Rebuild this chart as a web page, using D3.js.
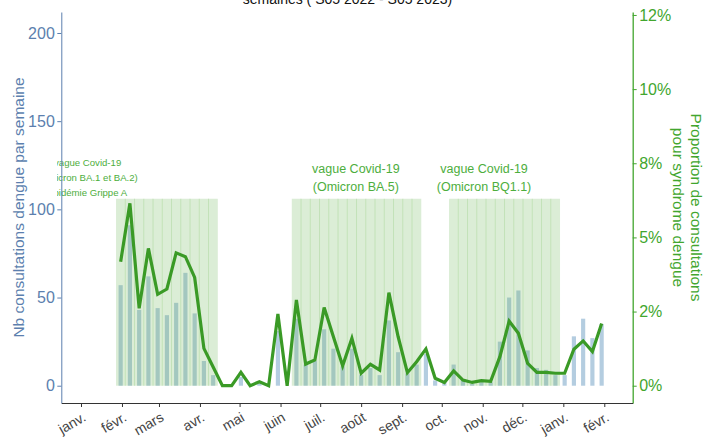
<!DOCTYPE html>
<html>
<head>
<meta charset="utf-8">
<script src="https://cdn.jsdelivr.net/npm/d3@7"></script>
<style>
  html, body { margin: 0; padding: 0; background: #fff; }
  svg { display: block; font-family: "Liberation Sans", Arial, sans-serif; }
</style>
</head>
<body>
<div id="chart"></div>
<script>
/* jshint esversion: 6 */

// weekly points (monday of each ISO week, S05 2022 -> S05 2023)
const weeks = [
  '2022-01-31', '2022-02-07', '2022-02-14', '2022-02-21', '2022-02-28', '2022-03-07',
  '2022-03-14', '2022-03-21', '2022-03-28', '2022-04-04', '2022-04-11', '2022-04-18',
  '2022-04-25', '2022-05-02', '2022-05-09', '2022-05-16', '2022-05-23', '2022-05-30',
  '2022-06-06', '2022-06-13', '2022-06-20', '2022-06-27', '2022-07-04', '2022-07-11',
  '2022-07-18', '2022-07-25', '2022-08-01', '2022-08-08', '2022-08-15', '2022-08-22',
  '2022-08-29', '2022-09-05', '2022-09-12', '2022-09-19', '2022-09-26', '2022-10-03',
  '2022-10-10', '2022-10-17', '2022-10-24', '2022-10-31', '2022-11-07', '2022-11-14',
  '2022-11-21', '2022-11-28', '2022-12-05', '2022-12-12', '2022-12-19', '2022-12-26',
  '2023-01-02', '2023-01-09', '2023-01-16', '2023-01-23', '2023-01-30'
];

// nb consultations dengue par semaine (bars, left axis)
const consultations = [
  57, 91, 43, 62, 44, 40, 47, 64, 41, 14, 6, 0,
  0, 5, 0, 1, 0, 31, 0, 38, 12, 14, 32, 21,
  11, 21, 6, 10, 6, 37, 19, 7, 12, 18, 3, 2,
  12, 3, 1, 2, 2, 25, 50, 54, 20, 10, 9, 6,
  6, 28, 38, 27, 35
];

// proportion de consultations pour syndrome dengue, in % (line, right axis)
const proportion = [
  4.18, 6.15, 2.61, 4.63, 3.08, 3.26, 4.48, 4.35, 3.65, 1.26, 0.63, 0,
  0, 0.45, 0, 0.13, 0, 2.42, 0, 2.89, 0.73, 0.87, 2.64, 1.65,
  0.67, 1.60, 0.42, 0.72, 0.53, 3.14, 1.65, 0.44, 0.81, 1.24, 0.25, 0.11,
  0.50, 0.19, 0.11, 0.17, 0.15, 0.98, 2.18, 1.77, 0.75, 0.45, 0.45, 0.42,
  0.42, 1.23, 1.51, 1.15, 2.10
];

// covid waves: first and last week shaded, label lines, date the label is centred on
const waveFirst = ['2022-01-31', '2022-06-13', '2022-10-10'];
const waveLast = ['2022-04-11', '2022-09-12', '2022-12-26'];
const waveLabels = [
  ['vague Covid-19', '(Omicron BA.1 et BA.2)', 'épidémie Grippe A'],
  ['vague Covid-19', '(Omicron BA.5)'],
  ['vague Covid-19', '(Omicron BQ1.1)']
];
const waveLabelDates = ['2022-01-06', '2022-07-28', '2022-11-02'];
const waveTop = 106;

// axes
const monthTicks = [
  '2022-01-01', '2022-02-01', '2022-03-01', '2022-04-01', '2022-05-01', '2022-06-01', '2022-07-01',
  '2022-08-01', '2022-09-01', '2022-10-01', '2022-11-01', '2022-12-01', '2023-01-01', '2023-02-01'
];
const monthLabels = ['janv.', 'févr.', 'mars', 'avr.', 'mai', 'juin', 'juil.',
  'août', 'sept.', 'oct.', 'nov.', 'déc.', 'janv.', 'févr.'];
const leftTicks = [0, 50, 100, 150, 200];
const rightTicks = [0, 2.5, 5, 7.5, 10, 12.5];
const rightLabels = ['0%', '2%', '5%', '8%', '10%', '12%'];

const W = 716, H = 437;
const mLeft = 61.3, mRight = 632.7, mTop = 12, mBottom = 403;
const blue = '#5c7fae', green = '#42a62e', lineGreen = '#3a9a26';

const parse = d3.utcParse('%Y-%m-%d');
const DAY = 864e5;

const svg = d3.select('#chart').append('svg')
  .attr('width', W)
  .attr('height', H);

const x = d3.scaleUtc()
  .domain([new Date(Date.UTC(2021, 11, 17, 2)), new Date(Date.UTC(2023, 1, 22, 12))])
  .range([mLeft, mRight]);

const yL = d3.scaleLinear().domain([-9.8, 211.9]).range([mBottom, mTop]);
const yR = d3.scaleLinear().domain([-0.583, 12.6]).range([mBottom, mTop]);

const weekPx = x(new Date(7 * DAY)) - x(new Date(0));
const barW = weekPx * 0.45;

svg.append('defs').append('clipPath')
  .attr('id', 'plot-clip')
  .append('rect')
  .attr('x', 57).attr('y', 0)
  .attr('width', mRight - 57).attr('height', mBottom);

const plot = svg.append('g').attr('clip-path', 'url(#plot-clip)');

// bars
plot.append('g')
  .selectAll('rect')
  .data(weeks)
  .join('rect')
  .attr('x', (d) => x(parse(d)) - barW / 2)
  .attr('y', (d, i) => yL(consultations[i]))
  .attr('width', barW)
  .attr('height', (d, i) => yL(0) - yL(consultations[i]))
  .attr('fill', '#b4cde0');

// shaded waves, one cell per week
const shade = plot.append('g');
waveFirst.forEach((first, w) => {
  let cells = weeks.filter(d => d >= first && d <= waveLast[w]);
  shade.selectAll(null)
    .data(cells)
    .join('rect')
    .attr('x', d => x(new Date(+parse(d) - 3.5 * DAY)))
    .attr('y', yL(waveTop))
    .attr('width', weekPx)
    .attr('height', yL(0) - yL(waveTop))
    .attr('fill', 'rgba(110,185,90,0.25)');

  shade.selectAll(null)
    .data(cells.slice(1))
    .join('line')
    .attr('x1', d => x(new Date(+parse(d) - 3.5 * DAY)))
    .attr('x2', d => x(new Date(+parse(d) - 3.5 * DAY)))
    .attr('y1', yL(waveTop))
    .attr('y2', yL(0))
    .attr('stroke', '#b8dcab')
    .attr('stroke-width', 0.7);
});

// wave labels
waveLabels.forEach((lines, w) => {
  let small = lines.length > 2;
  let t = plot.append('text')
    .attr('x', x(parse(waveLabelDates[w])))
    .attr('y', small ? 165.5 : 173.3)
    .attr('text-anchor', 'middle')
    .attr('fill', '#4dae3d')
    .style('font-size', small ? '9.6px' : '12.5px');
  lines.forEach((s, i) => {
    t.append('tspan')
      .attr('x', x(parse(waveLabelDates[w])))
      .attr('dy', i === 0 ? 0 : (small ? 15.2 : 17.2))
      .text(s);
  });
});

// proportion line
const line = d3.line()
  .x(d => x(parse(d)))
  .y((d, i) => yR(proportion[i]));

plot.append('path')
  .datum(weeks)
  .attr('d', line)
  .attr('fill', 'none')
  .attr('stroke', lineGreen)
  .attr('stroke-width', 3.2);

// left axis
const gL = svg.append('g')
  .attr('transform', `translate(${mLeft},0)`)
  .call(d3.axisLeft(yL).tickValues(leftTicks).tickSize(4).tickPadding(2.5).tickSizeOuter(0));
gL.select('.domain').attr('stroke', blue);
gL.selectAll('.tick line').attr('stroke', blue);
gL.selectAll('.tick text').attr('fill', blue).style('font-size', '16px');

// right axis
const gR = svg.append('g')
  .attr('transform', `translate(${mRight},0)`)
  .call(d3.axisRight(yR).tickValues(rightTicks).tickSize(4).tickPadding(2.5).tickSizeOuter(0)
    .tickFormat((d, i) => rightLabels[i]));
gR.select('.domain').attr('stroke', green).attr('stroke-width', 1.3);
gR.selectAll('.tick line').attr('stroke', green);
gR.selectAll('.tick text').attr('fill', green).style('font-size', '16px');

// bottom axis, labels hang from the tick with their top right corner
const gB = svg.append('g')
  .attr('transform', `translate(0,${mBottom})`)
  .call(d3.axisBottom(x).tickValues(monthTicks.map(parse)).tickSize(4).tickSizeOuter(0)
    .tickFormat((d, i) => monthLabels[i]));
gB.select('.domain').attr('stroke', '#333');
gB.selectAll('.tick line').attr('stroke', '#333');
gB.selectAll('.tick text')
  .attr('fill', '#444')
  .style('font-size', '14px')
  .attr('text-anchor', 'end')
  .attr('y', 0)
  .attr('dy', '0.75em')
  .attr('transform', 'translate(0,8) rotate(-30)');

// axis titles
svg.append('text')
  .attr('transform', `translate(24,${(mTop + mBottom) / 2}) rotate(-90)`)
  .attr('text-anchor', 'middle')
  .attr('fill', blue)
  .style('font-size', '15.5px')
  .text('Nb consultations dengue par semaine');

svg.append('text')
  .attr('transform', `translate(690.5,${(mTop + mBottom) / 2}) rotate(90)`)
  .attr('text-anchor', 'middle')
  .attr('fill', green)
  .style('font-size', '15.5px')
  .text('Proportion de consultations');

svg.append('text')
  .attr('transform', `translate(673,${(mTop + mBottom) / 2}) rotate(90)`)
  .attr('text-anchor', 'middle')
  .attr('fill', green)
  .style('font-size', '15.5px')
  .text('pour syndrome dengue');

// title, only its last line shows at the top edge
svg.append('text')
  .attr('x', 347.5)
  .attr('y', 4)
  .attr('text-anchor', 'middle')
  .attr('fill', '#111')
  .style('font-size', '14px')
  .text('semaines ( S05 2022 - S05 2023)');
</script>
</body>
</html>
